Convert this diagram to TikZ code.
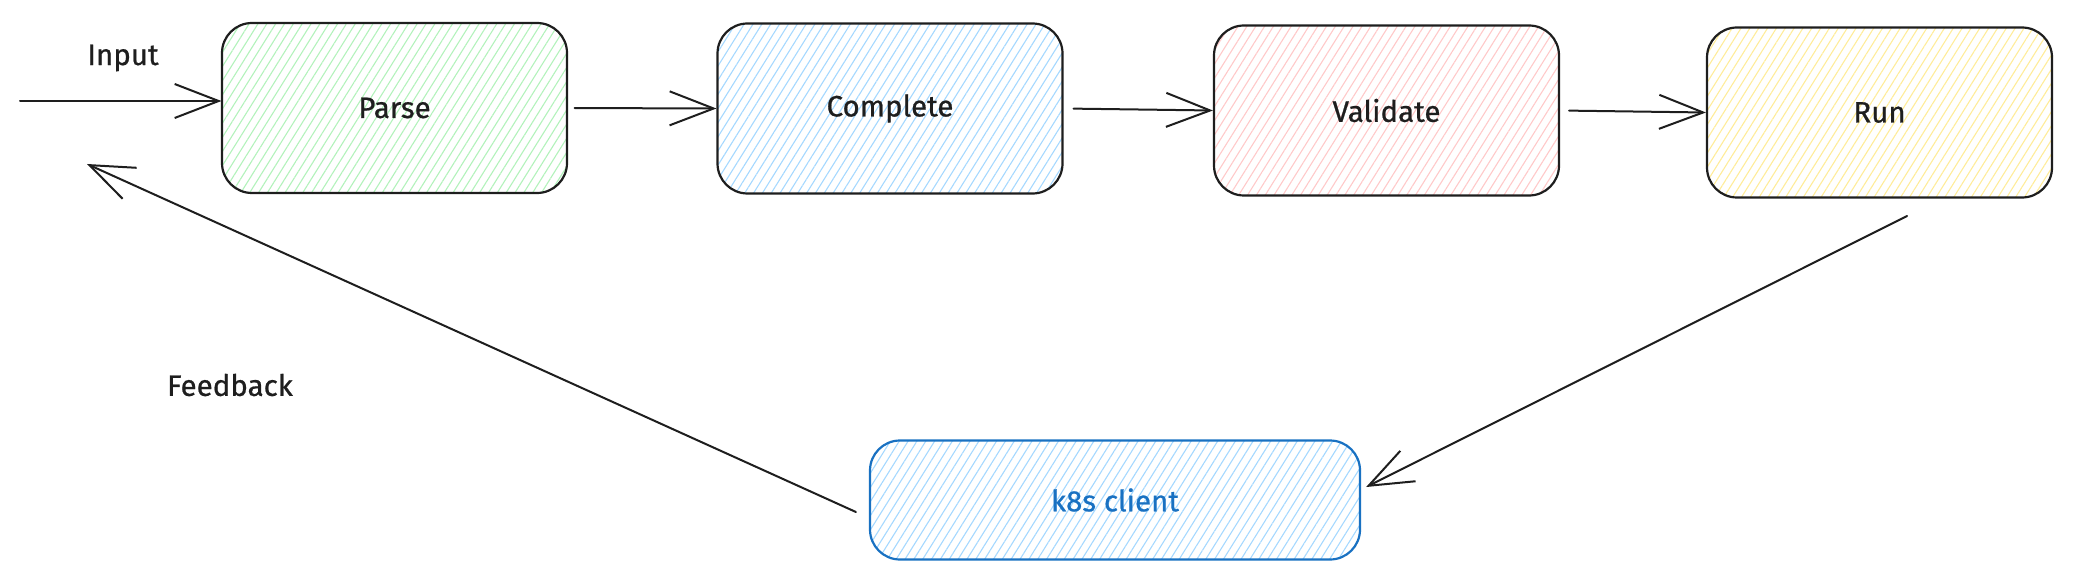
\documentclass[tikz,border=0pt]{standalone}
\usepackage{fontspec}
\setmainfont{Fira Sans}
\newfontfamily\handfont{Fira Sans}[FakeBold=0.7]
\usetikzlibrary{arrows.meta,patterns.meta,calc}
\definecolor{ink}{HTML}{1E1E1E}
\definecolor{hgreen}{HTML}{B2F2BB}
\definecolor{hblue}{HTML}{A5D8FF}
\definecolor{hred}{HTML}{FFC9C9}
\definecolor{hyellow}{HTML}{FFEC99}
\definecolor{kblue}{HTML}{1971C2}
\begin{document}
\begin{tikzpicture}[x=1pt,y=-1pt,
  stage/.style={draw=ink, line width=2.2pt, rounded corners=30pt,
    minimum width=345pt, minimum height=170pt, inner sep=0pt,
    text=ink, font=\handfont\fontsize{29.5}{34}\selectfont},
  hatch/.style={pattern={Lines[angle=58,distance=7.5pt,line width=1.1pt]}, pattern color=#1},
  conn/.style={draw=ink, line width=2pt, line cap=round, line join=round,
    -{Straight Barb[length=44pt,width=34pt,line width=2pt]}},
  lbl/.style={text=ink, inner sep=0pt, font=\handfont\fontsize{29.5}{34}\selectfont}
]
\path[use as bounding box] (0,0) rectangle (2098,564);

\node[stage, hatch=hgreen]  (parse)    at (394.5,108)  {Parse};
\node[stage, hatch=hblue]   (complete) at (890,108.5)  {Complete};
\node[stage, hatch=hred]    (validate) at (1386.5,110.5) {Validate};
\node[stage, hatch=hyellow] (run)      at (1879.5,112.5) {Run};
\node[stage, hatch=hblue, draw=kblue, text=kblue, minimum width=490pt, minimum height=119pt]
  (k8s) at (1115,500) {k8s client};

\node[lbl] (inlbl) at (123,58) {Input};
\node[lbl] (fblbl) at (230,385) {Feedback};

\coordinate (inS) at (20,101);
\coordinate (rs) at (1907,216);
\coordinate (fbTip) at (87,164);

\draw[conn] (inS) -- (inS -| parse.west);
\draw[conn, shorten <=7pt] (parse.east) -- (complete.west);
\draw[conn, shorten <=10pt] (complete.east) -- (validate.west);
\draw[conn, shorten <=9pt] (validate.east) -- (run.west);
\draw[conn] (rs) -- ([xshift=5pt,yshift=13pt]k8s.east);
\draw[conn] ([xshift=-13pt,yshift=-12pt]k8s.west) -- (fbTip);
\end{tikzpicture}
\end{document}
